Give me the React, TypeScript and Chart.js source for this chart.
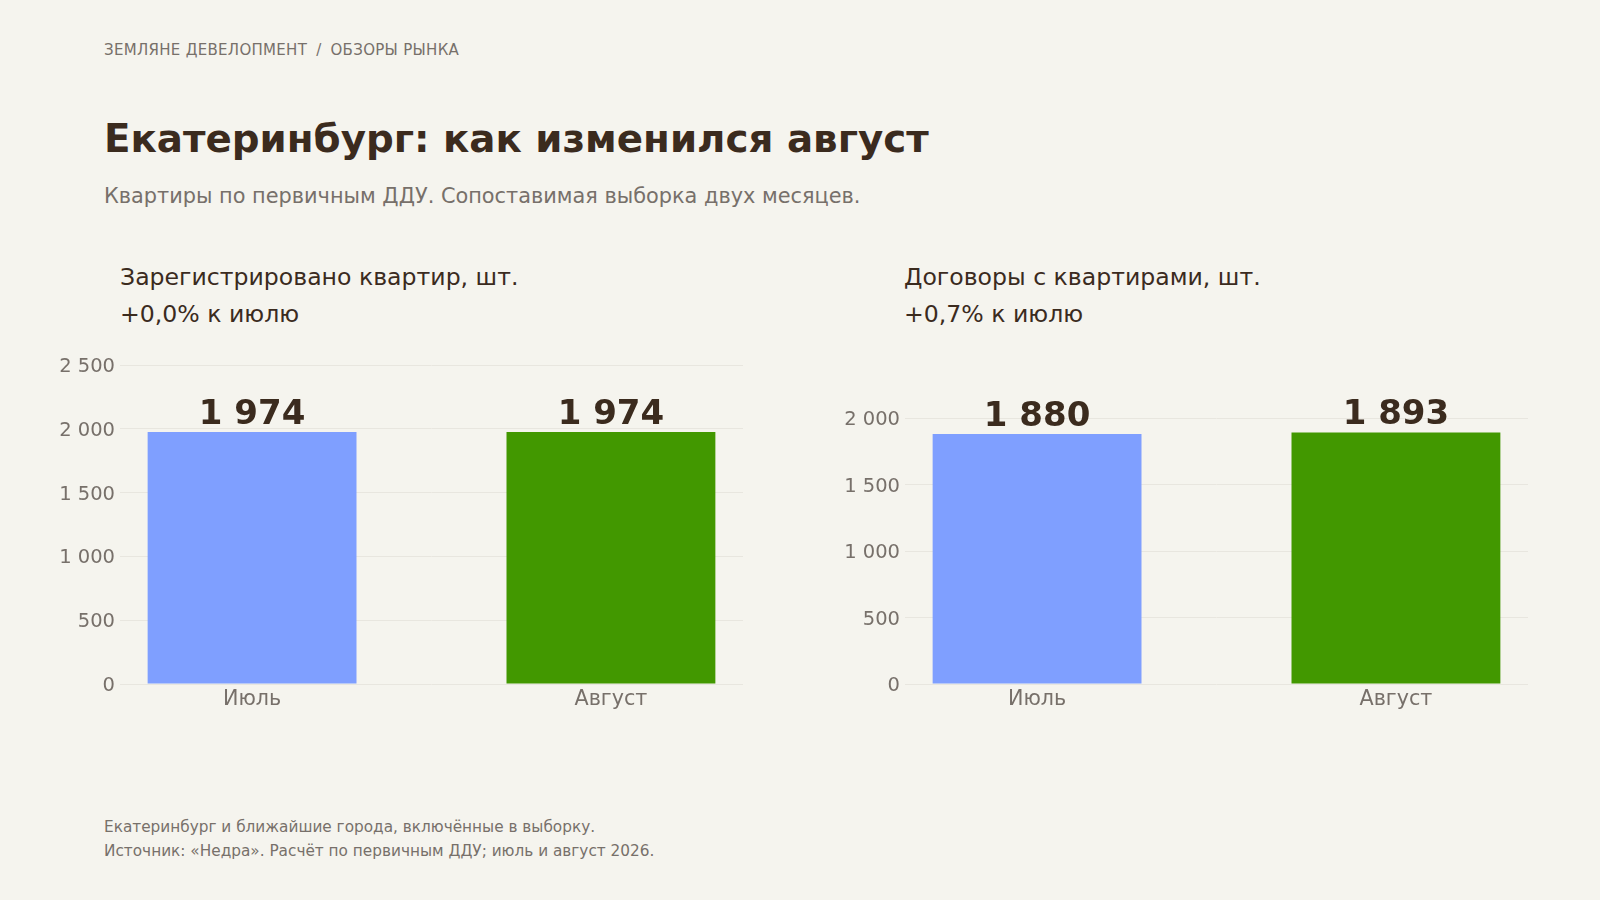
import React, { useEffect, useRef } from "react";
import { Chart, registerables } from "chart.js";

Chart.register(...registerables);

const FONT = '"DejaVu Sans", sans-serif';
const DARK = "#3b2b1e";
const GREY = "#77706a";
const BG = "#f5f4ee";

// data
const months = ["Июль", "Август"];
const registeredFlats = [1974, 1974];
const contractFlats = [1880, 1893];
const registeredTicks = [0, 500, 1000, 1500, 2000, 2500];
const contractTicks = [0, 500, 1000, 1500, 2000];
const registeredAxisMax = 2500;
const contractAxisMax = 2400;
const barColors = ["#7f9fff", "#429800"];

const fmt = (v: number) => String(Math.round(v)).replace(/\B(?=(\d{3})+(?!\d))/g, " ");

const changeText = (vals: number[]) => {
	const pct = ((vals[1] - vals[0]) / vals[0]) * 100;
	return (pct >= 0 ? "+" : "") + pct.toFixed(1).replace(".", ",") + "% к июлю";
};

const valueLabels = {
	id: "valueLabels",
	afterDatasetsDraw(chart: any) {
		const { ctx } = chart;
		const meta = chart.getDatasetMeta(0);
		const data = chart.data.datasets[0].data;
		ctx.save();
		ctx.font = `bold 34px ${FONT}`;
		ctx.fillStyle = DARK;
		ctx.textAlign = "center";
		ctx.textBaseline = "alphabetic";
		meta.data.forEach((bar: any, i: number) => {
			ctx.fillText(fmt(data[i].y), bar.x, bar.y - 8);
		});
		ctx.restore();
	},
};

type PanelProps = {
	values: number[];
	ticks: number[];
	axisMax: number;
	left: number;
};

const BarPanel: React.FC<PanelProps> = ({ values, ticks, axisMax, left }) => {
	const canvasRef = useRef<HTMLCanvasElement>(null);

	useEffect(() => {
		if (!canvasRef.current) return;
		const chart = new Chart(canvasRef.current, {
			type: "bar",
			data: {
				datasets: [
					{
						data: values.map((v, i) => ({ x: i, y: v })),
						backgroundColor: barColors,
						categoryPercentage: 1,
						barPercentage: 0.582,
					},
				],
			},
			options: {
				animation: false,
				responsive: false,
				maintainAspectRatio: false,
				layout: { padding: { top: 25, right: 17, left: 0, bottom: 0 } },
				plugins: { legend: { display: false }, tooltip: { enabled: false } },
				scales: {
					x: {
						type: "linear",
						min: -0.368,
						max: 1.368,
						offset: false,
						grid: { display: false, drawTicks: false },
						border: { display: false },
						afterBuildTicks: (scale: any) => {
							scale.ticks = months.map((_, i) => ({ value: i }));
						},
						afterFit: (scale: any) => {
							scale.height = 36;
						},
						ticks: {
							autoSkip: false,
							maxRotation: 0,
							padding: 3,
							color: GREY,
							font: { family: FONT, size: 20.7 },
							callback: (v: any) => months[v] ?? "",
						},
					},
					y: {
						min: 0,
						max: axisMax,
						afterBuildTicks: (scale: any) => {
							scale.ticks = ticks.map((t) => ({ value: t }));
						},
						afterFit: (scale: any) => {
							scale.width = 80;
						},
						grid: { color: "#e8e6df", lineWidth: 1, drawTicks: false },
						border: { display: false },
						ticks: {
							padding: 5,
							labelOffset: 2,
							color: GREY,
							font: { family: FONT, size: 19.5 },
							callback: (v: any) => fmt(Number(v)),
						},
					},
				},
			},
			plugins: [valueLabels],
		});
		return () => chart.destroy();
	}, [values, ticks, axisMax]);

	return (
		<canvas
			ref={canvasRef}
			width={720}
			height={380}
			style={{ position: "absolute", left, top: 340, width: 720, height: 380 }}
		/>
	);
};

const App: React.FC = () => {
	return (
		<div
			style={{
				position: "absolute",
				left: 0,
				top: 0,
				width: 1600,
				height: 900,
				background: BG,
				fontFamily: FONT,
				color: DARK,
				overflow: "hidden",
			}}
		>
			<div style={{ position: "absolute", left: 104, top: 40, lineHeight: "20px", fontSize: 15, color: GREY, letterSpacing: "0.02em" }}>
				ЗЕМЛЯНЕ ДЕВЕЛОПМЕНТ<span style={{ margin: "0 9px" }}>/</span>ОБЗОРЫ РЫНКА
			</div>
			<div style={{ position: "absolute", left: 104, top: 115, lineHeight: "48px", fontSize: 38.8, fontWeight: "bold" }}>
				Екатеринбург: как изменился август
			</div>
			<div style={{ position: "absolute", left: 104, top: 182, lineHeight: "28px", fontSize: 20.85, color: GREY }}>
				Квартиры по первичным ДДУ. Сопоставимая выборка двух месяцев.
			</div>

			<div style={{ position: "absolute", left: 120, top: 259, lineHeight: "37px", fontSize: 23.6 }}>
				<div>Зарегистрировано квартир, шт.</div>
				<div>{changeText(registeredFlats)}</div>
			</div>
			<div style={{ position: "absolute", left: 904, top: 259, lineHeight: "37px", fontSize: 23.6 }}>
				<div>Договоры с квартирами, шт.</div>
				<div>{changeText(contractFlats)}</div>
			</div>

			<BarPanel values={registeredFlats} ticks={registeredTicks} axisMax={registeredAxisMax} left={40} />
			<BarPanel values={contractFlats} ticks={contractTicks} axisMax={contractAxisMax} left={825} />

			<div style={{ position: "absolute", left: 104, top: 816, lineHeight: "23.5px", fontSize: 15.3, color: GREY }}>
				<div>Екатеринбург и ближайшие города, включённые в выборку.</div>
				<div>Источник: «Недра». Расчёт по первичным ДДУ; июль и август 2026.</div>
			</div>
		</div>
	);
};

export default App;
